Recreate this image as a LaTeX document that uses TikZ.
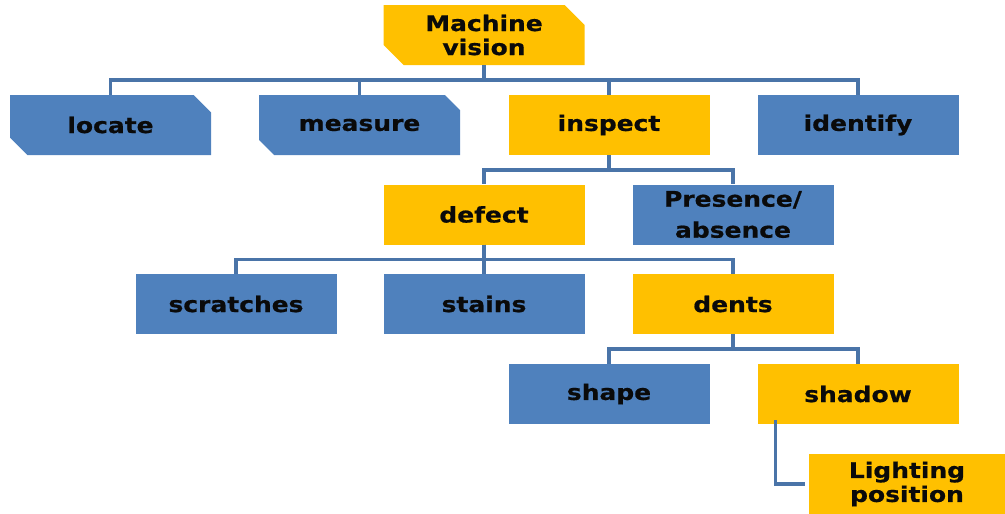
\documentclass[tikz,border=0pt]{standalone}
\usepackage{fontspec}
\usetikzlibrary{shapes.misc}
\newfontfamily\lblfont{DejaVu Sans}[BoldFont={DejaVu Sans Bold},FakeStretch=1.16,FakeBold=0.7]
\definecolor{yel}{HTML}{FFC000}
\definecolor{blu}{HTML}{4F81BD}
\definecolor{lin}{HTML}{4A74A8}
\definecolor{txt}{HTML}{0A0A0A}
\tikzset{
  box/.style={rectangle, minimum width=201pt, minimum height=60pt, inner sep=0pt,
    font=\lblfont\bfseries\fontsize{21.5}{24}\selectfont, text=txt, align=center},
  ybox/.style={box, fill=yel},
  bbox/.style={box, fill=blu},
  cut/.style={chamfered rectangle, chamfered rectangle corners={north east,south west},
    chamfered rectangle xsep=11pt, chamfered rectangle ysep=9pt},
  conn/.style={draw=lin, line width=3.5pt}
}
\begin{document}
\begin{tikzpicture}[x=1pt,y=-1pt]
\useasboundingbox (0,0) rectangle (1005,514);
\node[ybox,cut] (mv) at (484,35) {Machine\\vision};
\node[bbox,cut] (loc) at (110.5,125) {locate};
\node[bbox,cut] (mea) at (359.5,125) {measure};
\node[ybox] (ins) at (609,125) {inspect};
\node[bbox] (ide) at (858,125) {identify};
\node[ybox] (def) at (484,214.5) {defect};
\node[bbox] (pre) at (733,214.5) {Presence/\\[7pt]absence};
\node[bbox] (scr) at (236,304) {scratches};
\node[bbox] (sta) at (484,304) {stains};
\node[ybox] (den) at (733,304) {dents};
\node[bbox] (sha) at (609,394) {shape};
\node[ybox] (shd) at (858,394) {shadow};
\node[ybox, minimum width=196pt] (lig) at (907,484) {Lighting\\position};
% connectors
\foreach \c in {loc,mea,ins,ide}
  \draw[conn] (mv.south) -- ++(0,15) -| (\c.north);
\foreach \c in {def,pre}
  \draw[conn] (ins.south) -- ++(0,15) -| (\c.north);
\foreach \c in {scr,sta,den}
  \draw[conn] (def.south) -- ++(0,15) -| (\c.north);
\foreach \c in {sha,shd}
  \draw[conn] (den.south) -- ++(0,15) -| (\c.north);
\draw[conn] ([xshift=18pt,yshift=4pt]shd.south west) |- ([xshift=-4pt]lig.west);
\end{tikzpicture}
\end{document}
